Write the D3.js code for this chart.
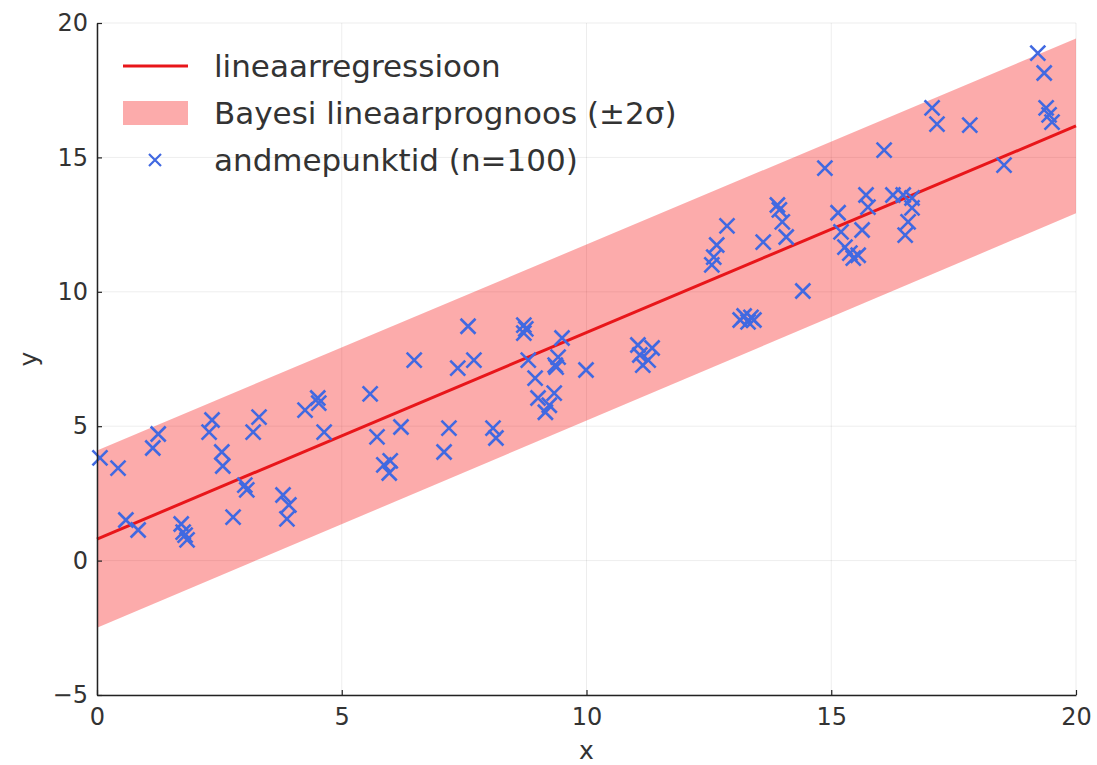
<!DOCTYPE html>
<html>
<head>
<meta charset="utf-8">
<script src="https://cdn.jsdelivr.net/npm/d3@7"></script>
<style>
  body { margin: 0; background: #fff; }
  text { font-family: "DejaVu Sans", sans-serif; fill: #333; }
</style>
</head>
<body>
<svg id="chart" width="1097" height="765"></svg>
<script>
// data
var xs = [0.06,0.43,0.59,0.84,1.14,1.25,1.72,1.76,1.84,1.80,
  2.29,2.35,2.55,2.57,2.78,3.02,3.06,3.19,3.31,3.80,
  3.92,3.88,4.25,4.51,4.53,4.64,5.58,5.72,5.86,5.99,
  5.97,6.21,6.48,7.09,7.19,7.37,7.58,7.70,8.09,8.15,
  8.72,8.76,8.72,8.81,8.95,9.01,9.16,9.24,9.34,9.36,
  9.42,9.38,9.50,9.99,11.05,11.09,11.15,11.26,11.34,13.14,
  13.22,13.30,13.36,13.42,12.56,12.60,12.66,12.87,13.61,13.90,
  13.94,14.0,14.08,14.42,14.87,15.14,15.20,15.28,15.38,15.45,
  15.55,15.63,15.71,15.75,16.08,16.26,16.47,16.51,16.57,16.65,
  16.65,17.06,17.16,17.83,18.53,19.22,19.35,19.39,19.45,19.51];
var ys = [3.82,3.44,1.51,1.14,4.19,4.71,1.36,1.06,0.77,0.95,
  4.78,5.23,4.04,3.52,1.62,2.81,2.63,4.78,5.34,2.44,
  2.07,1.55,5.60,6.05,5.86,4.78,6.20,4.60,3.56,3.71,
  3.26,4.97,7.46,4.04,4.93,7.16,8.72,7.46,4.93,4.56,
  8.76,8.62,8.46,7.46,6.79,6.05,5.52,5.78,6.23,7.27,
  7.57,7.20,8.28,7.09,8.02,7.65,7.27,7.46,7.91,8.95,
  9.10,8.88,9.05,8.95,11.0,11.29,11.74,12.45,11.85,13.23,
  13.05,12.60,12.04,10.03,14.6,12.94,12.23,11.66,11.44,11.25,
  11.36,12.30,13.6,13.15,15.27,13.6,13.6,12.11,12.60,13.12,
  13.49,16.84,16.24,16.20,14.71,18.88,18.14,16.84,16.58,16.31];

var fitX = [0, 20];
var fitY = [0.8, 16.17];
var bandHalf = [3.3, 3.25];

var xTicks = [0, 5, 10, 15, 20];
var yTicks = [-5, 0, 5, 10, 15, 20];

var legendLabels = ['lineaarregressioon', 'Bayesi lineaarprognoos (\u00b12\u03c3)', 'andmepunktid (n=100)'];

var width = 1097, height = 765;
var margin = { top: 23, right: 21, bottom: 70, left: 97 };

var svg = d3.select('#chart');

var x = d3.scaleLinear().domain([0, 20]).range([margin.left, width - margin.right]);
var y = d3.scaleLinear().domain([-5, 20]).range([height - margin.bottom, margin.top]);

// grid
var grid = svg.append('g').attr('stroke', '#000').attr('stroke-opacity', 0.07).attr('stroke-width', 1);
xTicks.forEach(function(t) {
  grid.append('line').attr('x1', x(t)).attr('x2', x(t)).attr('y1', y(-5)).attr('y2', y(20));
});
yTicks.forEach(function(t) {
  grid.append('line').attr('x1', x(0)).attr('x2', x(20)).attr('y1', y(t)).attr('y2', y(t));
});

// band
var bandData = fitX.map(function(v, i) {
  return { x: v, lo: fitY[i] - bandHalf[i], hi: fitY[i] + bandHalf[i] };
});
var area = d3.area()
  .x(function(d) { return x(d.x); })
  .y0(function(d) { return y(d.lo); })
  .y1(function(d) { return y(d.hi); });
svg.append('path')
  .datum(bandData)
  .attr('d', area)
  .attr('fill', '#f50000')
  .attr('fill-opacity', 0.33);

// fit line
var line = d3.line().x(function(d) { return x(d[0]); }).y(function(d) { return y(d[1]); });
svg.append('path')
  .datum(d3.zip(fitX, fitY))
  .attr('d', line)
  .attr('fill', 'none')
  .attr('stroke', '#e8161a')
  .attr('stroke-width', 3);

// points as x markers
var s = 7.5;
var cross = 'M' + (-s) + ',' + (-s) + 'L' + s + ',' + s + 'M' + (-s) + ',' + s + 'L' + s + ',' + (-s);
svg.append('g')
  .selectAll('path')
  .data(d3.zip(xs, ys))
  .join('path')
  .attr('transform', function(d) { return 'translate(' + x(d[0]) + ',' + y(d[1]) + ')'; })
  .attr('d', cross)
  .attr('stroke', '#4169e1')
  .attr('stroke-width', 2.6)
  .attr('fill', 'none');

// axes
var xAxis = d3.axisBottom(x).tickValues(xTicks).tickSizeInner(-5).tickSizeOuter(0).tickPadding(13);
var yAxis = d3.axisLeft(y).tickValues(yTicks).tickSizeInner(-5).tickSizeOuter(0).tickPadding(9)
  .tickFormat(function(d) { return d < 0 ? '\u2212' + Math.abs(d) : d; });

var gx = svg.append('g').attr('transform', 'translate(0,' + y(-5) + ')').call(xAxis);
var gy = svg.append('g').attr('transform', 'translate(' + x(0) + ',0)').call(yAxis);
[gx, gy].forEach(function(g) {
  g.select('.domain').attr('stroke', '#222').attr('stroke-width', 1.5);
  g.selectAll('.tick line').attr('stroke', '#222').attr('stroke-width', 1.2);
  g.selectAll('.tick text').style('font-size', '24px').attr('fill', '#333');
});

svg.append('text').attr('x', x(10)).attr('y', 759).attr('text-anchor', 'middle')
  .style('font-size', '25px').text('x');
svg.append('text').attr('transform', 'translate(37,' + y(7.5) + ') rotate(-90)')
  .attr('text-anchor', 'middle').style('font-size', '25px').text('y');

// legend
var lg = svg.append('g');
var rowY = [66, 113, 160];
lg.append('line').attr('x1', 123).attr('x2', 188).attr('y1', rowY[0]).attr('y2', rowY[0])
  .attr('stroke', '#e8161a').attr('stroke-width', 3);
lg.append('rect').attr('x', 123).attr('y', rowY[1] - 12).attr('width', 65).attr('height', 24)
  .attr('fill', '#f50000').attr('fill-opacity', 0.33);
lg.append('path').attr('transform', 'translate(155,' + rowY[2] + ')')
  .attr('d', 'M-6,-6L6,6M-6,6L6,-6').attr('stroke', '#4169e1').attr('stroke-width', 2.2);
legendLabels.forEach(function(t, i) {
  lg.append('text').attr('x', 214).attr('y', rowY[i]).attr('dy', '0.35em')
    .style('font-size', '31px').text(t);
});
</script>
</body>
</html>
